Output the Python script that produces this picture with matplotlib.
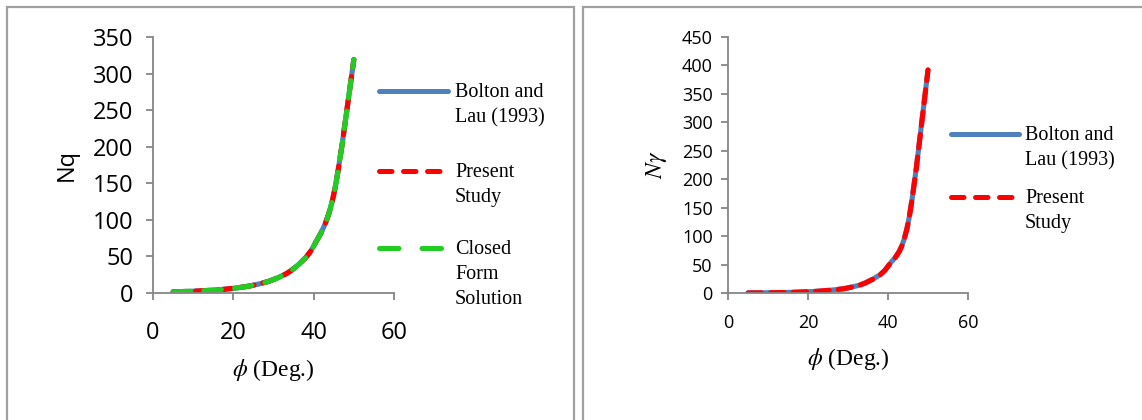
import matplotlib.pyplot as plt
from matplotlib.path import Path
from matplotlib.patches import PathPatch, Rectangle
from matplotlib.lines import Line2D

plt.rcParams['mathtext.fontset'] = 'stix'

# friction angle (deg)
phi = [5, 10, 15, 20, 25, 30, 35, 40, 45, 50]

# Nq
nq_bolton = [1.57, 2.47, 3.94, 6.40, 10.66, 18.40, 33.30, 64.20, 134.87, 319.07]
nq_present = [1.57, 2.47, 3.94, 6.40, 10.66, 18.40, 33.30, 64.20, 134.87, 319.07]
nq_closed = [1.57, 2.47, 3.94, 6.40, 10.66, 18.40, 33.30, 64.20, 134.87, 319.07]

# N gamma
ng_bolton = [0.1, 0.4, 1.0, 2.2, 4.5, 9.0, 20.0, 47.0, 122.0, 392.0]
ng_present = [0.1, 0.4, 1.0, 2.2, 4.5, 9.0, 20.0, 47.0, 122.0, 392.0]

BLUE = '#4F81BD'
RED = '#FF0000'
GREEN = '#22CC22'
GRAY = '#868686'
SANS = 'Open Sans'
SERIF = 'Liberation Serif'

RED_LS = (0, (2.6, 1.8))
GREEN_LS = (0, (3.4, 2.6))


def smooth_path(x, y):
    """Excelの平滑線のようにベジェ曲線でつなぐ"""
    verts = [(x[0], y[0])]
    codes = [Path.MOVETO]
    n = len(x)
    for i in range(n - 1):
        x0, y0 = (x[i - 1], y[i - 1]) if i > 0 else (x[i], y[i])
        x3, y3 = (x[i + 2], y[i + 2]) if i + 2 < n else (x[i + 1], y[i + 1])
        c1 = (x[i] + (x[i + 1] - x0) / 6, y[i] + (y[i + 1] - y0) / 6)
        c2 = (x[i + 1] - (x3 - x[i]) / 6, y[i + 1] - (y3 - y[i]) / 6)
        verts += [c1, c2, (x[i + 1], y[i + 1])]
        codes += [Path.CURVE4] * 3
    return Path(verts, codes)


def draw_curve(ax, x, y, color, ls):
    patch = PathPatch(smooth_path(x, y), fill=False, edgecolor=color, lw=3.7,
                      linestyle=ls, capstyle='round', joinstyle='round',
                      transform=ax.transData)
    ax.add_patch(patch)


def style_axes(ax, ymax, tick_size, xpad, ypad):
    ax.set_xlim(0, 60)
    ax.set_ylim(0, ymax)
    ax.set_xticks([0, 20, 40, 60])
    ax.set_yticks(range(0, ymax + 1, 50))
    for s in ['top', 'right']:
        ax.spines[s].set_visible(False)
    for s in ['left', 'bottom']:
        ax.spines[s].set_color(GRAY)
        ax.spines[s].set_linewidth(1.3)
    ax.tick_params(axis='both', colors=GRAY, length=5, width=1.3, labelcolor='black',
                   labelsize=tick_size)
    ax.tick_params(axis='x', pad=xpad)
    ax.tick_params(axis='y', pad=ypad)
    for lab in ax.get_xticklabels() + ax.get_yticklabels():
        lab.set_fontfamily(SANS)


def draw_legend(fig, entries, x0, x1, xt):
    W, H = 1142, 420
    for y, color, ls, text in entries:
        fig.add_artist(Line2D([x0 / W, x1 / W], [1 - y / H, 1 - y / H], color=color,
                              lw=3.6, linestyle=ls, dash_capstyle='round',
                              solid_capstyle='round'))
        fig.text(xt / W, 1 - (y - 8) / H, text, ha='left', va='top',
                 fontsize=14.5, family=SERIF, linespacing=1.42)


fig = plt.figure(figsize=(11.42, 4.2), dpi=100)

# 枠線
fig.add_artist(Rectangle((7 / 1142, -0.1), (574 - 7) / 1142, 1.1 - 7 / 420,
                         transform=fig.transFigure, fill=False, ec='#A0A0A0', lw=1.6))
fig.add_artist(Rectangle((583 / 1142, -0.1), 0.6, 1.1 - 7 / 420,
                         transform=fig.transFigure, fill=False, ec='#A0A0A0', lw=1.6))

# 左: Nq
ax1 = fig.add_axes([153 / 1142, 1 - 293 / 420, (394 - 153) / 1142, (293 - 37) / 420])
draw_curve(ax1, phi, nq_bolton, BLUE, '-')
draw_curve(ax1, phi, nq_present, RED, RED_LS)
draw_curve(ax1, phi, nq_closed, GREEN, GREEN_LS)
style_axes(ax1, 350, 17, 15, 9)
ax1.set_ylabel('Nq', family=SANS, fontsize=17, labelpad=10)
ax1.set_xlabel(r'$\phi$ (Deg.)', family=SERIF, fontsize=17, labelpad=9)

draw_legend(fig, [
    (91, BLUE, '-', 'Bolton and\nLau (1993)'),
    (171, RED, (0, (2.5, 2.3)), 'Present\nStudy'),
    (248, GREEN, (0, (3.9, 4.6)), 'Closed\nForm\nSolution'),
], 379, 448, 455)

# 右: Nγ
ax2 = fig.add_axes([728 / 1142, 1 - 293 / 420, (968 - 728) / 1142, (293 - 37) / 420])
draw_curve(ax2, phi, ng_bolton, BLUE, '-')
draw_curve(ax2, phi, ng_present, RED, RED_LS)
style_axes(ax2, 450, 13, 10, 6)
ax2.set_ylabel(r'$N\gamma$', family=SERIF, fontsize=17, labelpad=9)
ax2.set_xlabel(r'$\phi$ (Deg.)', family=SERIF, fontsize=17, labelpad=10)

draw_legend(fig, [
    (134, BLUE, '-', 'Bolton and\nLau (1993)'),
    (197, RED, (0, (2.5, 2.3)), 'Present\nStudy'),
], 951, 1019, 1025)

fig.savefig('out.png', dpi=100)
